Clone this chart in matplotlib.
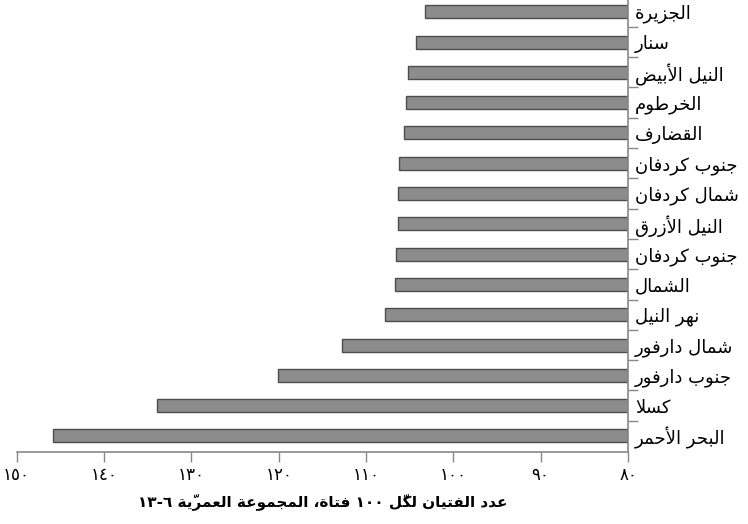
import matplotlib
matplotlib.use("Agg")
import matplotlib.pyplot as plt
from matplotlib.ticker import FixedLocator

# boys per 100 girls, age group 6-13, by state (bottom to top)
states = ['البحر الأحمر', 'كسلا', 'جنوب دارفور', 'شمال دارفور', 'نهر النيل',
          'الشمال', 'جنوب كردفان', 'النيل الأزرق', 'شمال كردفان', 'جنوب كردفان',
          'القضارف', 'الخرطوم', 'النيل الأبيض', 'سنار', 'الجزيرة']
ratio = [145.9, 133.9, 120.1, 112.7, 107.8,
         106.7, 106.6, 106.3, 106.3, 106.2,
         105.7, 105.4, 105.2, 104.3, 103.3]
xticks = [150, 140, 130, 120, 110, 100, 90, 80]
xtick_labels = ['١٥٠', '١٤٠', '١٣٠', '١٢٠', '١١٠', '١٠٠', '٩٠', '٨٠']
xlabel = 'عدد الفتيان لكلّ ١٠٠ فتاة، المجموعة العمريّة ٦-١٣'

# --- minimal arabic shaping: contextual forms + right-to-left order ---
# letter -> (isolated form code point, dual joining?)
FORMS = {
    'آ': (0xFE81, False), 'أ': (0xFE83, False), 'ؤ': (0xFE85, False),
    'إ': (0xFE87, False), 'ئ': (0xFE89, True), 'ا': (0xFE8D, False),
    'ب': (0xFE8F, True), 'ة': (0xFE93, False), 'ت': (0xFE95, True),
    'ث': (0xFE99, True), 'ج': (0xFE9D, True), 'ح': (0xFEA1, True),
    'خ': (0xFEA5, True), 'د': (0xFEA9, False), 'ذ': (0xFEAB, False),
    'ر': (0xFEAD, False), 'ز': (0xFEAF, False), 'س': (0xFEB1, True),
    'ش': (0xFEB5, True), 'ص': (0xFEB9, True), 'ض': (0xFEBD, True),
    'ط': (0xFEC1, True), 'ظ': (0xFEC5, True), 'ع': (0xFEC9, True),
    'غ': (0xFECD, True), 'ف': (0xFED1, True), 'ق': (0xFED5, True),
    'ك': (0xFED9, True), 'ل': (0xFEDD, True), 'م': (0xFEE1, True),
    'ن': (0xFEE5, True), 'ه': (0xFEE9, True), 'و': (0xFEED, False),
    'ى': (0xFEEF, False), 'ي': (0xFEF1, True),
}
LAM_ALEF = {'آ': 0xFEF5, 'أ': 0xFEF7, 'إ': 0xFEF9, 'ا': 0xFEFB}
for cp in LAM_ALEF.values():
    FORMS[chr(cp)] = (cp, False)


def is_mark(c):
    return '\u064B' <= c <= '\u0652'


def is_digit(c):
    return c.isdigit()


def neighbour(chars, k, step):
    k += step
    while 0 <= k < len(chars) and is_mark(chars[k]):
        k += step
    return chars[k] if 0 <= k < len(chars) else None


def shape(text):
    chars = []
    i = 0
    while i < len(text):
        if text[i] == 'ل' and i + 1 < len(text) and text[i + 1] in LAM_ALEF:
            chars.append(chr(LAM_ALEF[text[i + 1]]))
            i += 2
        else:
            chars.append(text[i])
            i += 1
    out = []
    for k, c in enumerate(chars):
        if c not in FORMS:
            out.append(c)
            continue
        base, dual = FORMS[c]
        prev = neighbour(chars, k, -1)
        nxt = neighbour(chars, k, 1)
        join_prev = prev in FORMS and FORMS[prev][1]
        join_next = dual and nxt in FORMS
        out.append(chr(base + (1 if join_prev else 0) + (2 if join_next else 0)))
    # keep marks with their letter, reverse, then put number runs back in order
    clusters = []
    for c in out:
        if is_mark(c) and clusters:
            clusters[-1] += c
        else:
            clusters.append(c)
    clusters.reverse()
    res = []
    run = []
    for cl in clusters:
        if is_digit(cl):
            run.append(cl)
        else:
            res.extend(reversed(run))
            run = []
            res.append(cl)
    res.extend(reversed(run))
    return ''.join(res)


plt.rcParams['font.family'] = ['DejaVu Sans']

fig = plt.figure(figsize=(7.48, 5.24), dpi=100)
ax = fig.add_axes([16.7 / 748, 72 / 524, (628 - 16.7) / 748, 452 / 524])

pos = list(range(len(states)))
ax.barh(pos, [r - 80 for r in ratio], left=80, height=0.43,
        color='#8c8c8c', edgecolor='#4d4d4d', linewidth=1.0, zorder=2)

ax.set_xlim(150, 80)
ax.set_ylim(-0.53, -0.53 + 452 / 30.3)

ax.set_xticks(xticks)
ax.set_xticklabels(xtick_labels, fontsize=12)
ax.tick_params(axis='x', direction='out', length=7, width=1, color='#888888', pad=3)

ax.yaxis.tick_right()
ax.set_yticks(pos)
ax.set_yticklabels([shape(s) for s in states], fontsize=13, ha='left')
ax.yaxis.set_minor_locator(FixedLocator([p + 0.5 for p in pos]))
ax.tick_params(axis='y', which='major', length=0, pad=5)
ax.tick_params(axis='y', which='minor', direction='out', length=7, width=1, color='#888888')

for side in ('top', 'left'):
    ax.spines[side].set_visible(False)
for side in ('bottom', 'right'):
    ax.spines[side].set_color('#888888')
    ax.spines[side].set_linewidth(1.2)

ax.set_xlabel(shape(xlabel), fontsize=11, fontweight='bold', labelpad=7)

fig.savefig('out.png', dpi=100)
